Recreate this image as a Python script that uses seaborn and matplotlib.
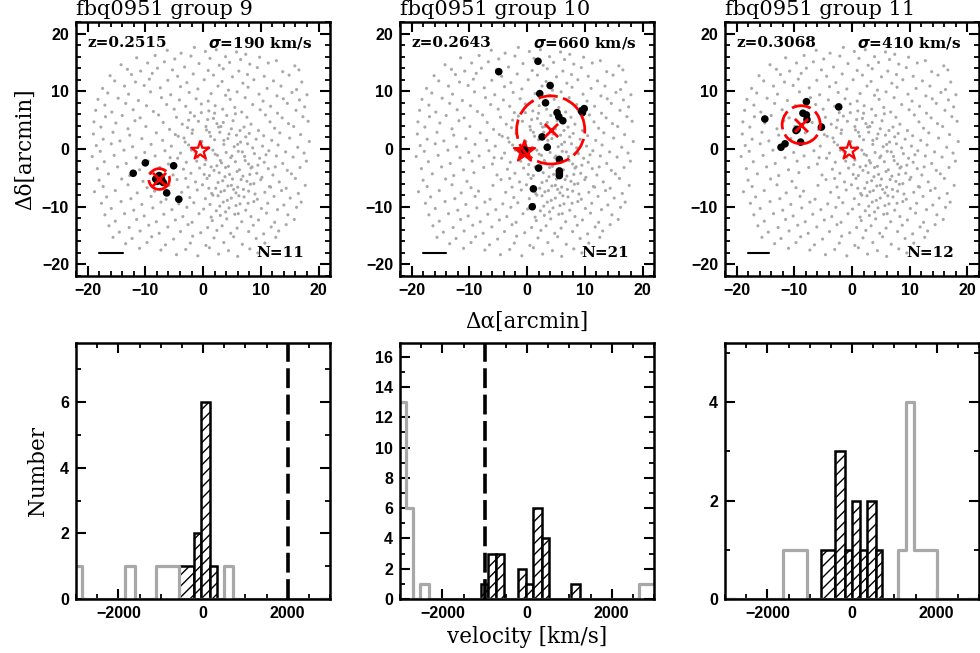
import numpy as np
import matplotlib
matplotlib.use('Agg')
import matplotlib.pyplot as plt
from matplotlib.patches import Circle
from matplotlib.ticker import MultipleLocator
import seaborn as sns

sns.set_style('ticks')
plt.rcParams['font.family'] = ['Liberation Sans', 'DejaVu Sans']
plt.rcParams['font.weight'] = 'bold'
plt.rcParams['hatch.linewidth'] = 1.0
plt.rcParams['text.color'] = 'black'
plt.rcParams['axes.labelcolor'] = 'black'

# ---------------- data ----------------
titles = ['fbq0951 group 9', 'fbq0951 group 10', 'fbq0951 group 11']
z_txt = ['z=0.2515', 'z=0.2643', 'z=0.3068']
sig_txt = [r'$\sigma$=190 km/s', r'$\sigma$=660 km/s', r'$\sigma$=410 km/s']
n_txt = ['N=11', 'N=21', 'N=12']

# field galaxies (same field in all three panels), arcmin
field_pts = [
    (-6.2,17.1),(-1.5,17.6),(2.3,17.2),(5.8,16.8),(-3.8,16.6),(0.4,16.9),(7.4,16.4),
    (-11.5,15.8),(-8.3,16.2),(-4.9,15.6),(-2.1,16.1),(1.2,15.7),(3.9,16.0),(6.5,15.5),(9.8,15.9),(12.7,15.3),
    (-14.2,14.6),(-9.6,14.9),(-6.7,15.1),(-0.7,14.8),(2.8,14.5),(4.6,15.0),(8.1,14.7),(11.3,14.9),(15.9,14.4),
    (-13.1,13.8),(-10.8,13.5),(-7.9,14.0),(-5.3,13.7),(-3.2,14.2),(0.9,13.6),(3.5,13.9),(6.2,13.5),(9.4,14.1),(13.8,13.4),(16.6,13.7),
    (-16.1,12.7),(-12.4,12.9),(-8.8,13.1),(-4.4,12.6),(-1.7,13.0),(1.8,12.8),(5.1,12.5),(7.7,12.9),(10.6,12.6),(14.9,12.8),
    (-15.3,11.8),(-11.7,11.6),(-9.3,12.1),(-6.1,11.9),(-2.8,11.5),(0.2,12.0),(3.3,11.7),(6.9,11.4),(8.8,12.0),(12.2,11.8),(17.1,11.6),
    (-17.4,10.5),(-13.6,10.9),(-10.2,11.0),(-7.4,10.6),(-3.9,10.8),(-0.9,10.4),(2.6,10.9),(4.4,10.2),(7.8,10.7),(11.1,10.5),(13.5,10.9),(16.2,10.3),
    (-16.5,9.7),(-12.9,9.5),(-9.1,9.9),(-5.6,9.4),(-2.4,9.8),(1.4,9.6),(3.9,9.3),(5.9,9.9),(9.7,9.5),(12.8,9.2),(15.4,9.8),(18.0,9.4),
    (-18.2,8.6),(-14.7,8.8),(-11.2,8.4),(-7.2,8.9),(-4.1,8.5),(-1.2,8.7),(0.9,8.3),(4.7,8.6),(7.3,8.9),(10.4,8.3),(13.9,8.7),(16.7,8.5),
    (-17.0,7.6),(-13.4,7.9),(-9.8,7.5),(-6.3,7.7),(-3.0,7.4),(-0.3,7.8),(2.1,7.5),(5.5,7.2),(8.6,7.7),(11.7,7.4),(14.6,7.9),(17.6,7.3),
    (-18.6,6.7),(-15.8,6.4),(-12.1,6.8),(-8.6,6.5),(-5.0,6.9),(-2.2,6.3),(1.0,6.6),(3.4,6.9),(6.7,6.4),(9.9,6.8),(12.9,6.2),(16.1,6.7),
    (-16.9,5.6),(-14.0,5.8),(-10.9,5.4),(-7.7,5.9),(-4.6,5.5),(-1.5,5.7),(1.8,5.3),(4.1,5.8),(7.6,5.5),(10.8,5.9),(13.7,5.4),(17.3,5.6),
    (-18.9,4.7),(-15.1,4.5),(-11.8,4.9),(-6.9,4.6),(-3.6,4.3),(-0.8,4.8),(2.4,4.4),(5.2,4.9),(8.3,4.3),(11.6,4.7),(14.8,4.4),(18.2,4.8),
    (-17.7,3.8),(-13.0,3.5),(-9.9,3.9),(-5.8,3.4),(-2.7,3.7),(0.6,3.3),(3.1,3.9),(4.9,3.5),(7.1,3.8),(9.6,3.2),(12.4,3.6),(15.7,3.9),
    (-19.0,2.6),(-15.6,2.9),(-12.7,2.4),(-8.1,2.8),(-4.8,2.5),(-1.9,2.7),(1.3,2.2),(2.9,2.9),(5.8,2.4),(8.0,2.7),(10.5,2.3),(13.3,2.8),(16.9,2.5),
    (-17.3,1.7),(-14.4,1.4),(-10.6,1.8),(-7.0,1.5),(-3.3,1.9),(-0.2,1.3),(2.0,1.6),(4.3,1.8),(6.5,1.2),(9.2,1.7),(11.9,1.5),(15.0,1.9),(18.4,1.3),
    (-18.5,0.6),(-15.9,0.9),(-12.2,0.4),(-9.0,0.8),(-5.5,0.5),(-2.5,0.7),(0.9,0.3),(3.6,0.8),(5.4,0.4),(7.7,0.9),(10.3,0.5),(13.0,0.7),(16.4,0.3),
    (-17.8,-0.4),(-13.7,-0.2),(-10.1,-0.6),(-6.6,-0.3),(-3.9,-0.7),(-1.4,-0.5),(1.7,-0.2),(4.0,-0.6),(6.1,-0.4),(8.9,-0.8),(11.4,-0.3),(14.3,-0.5),(17.5,-0.7),
    (-19.2,-1.3),(-15.4,-1.1),(-11.6,-1.5),(-8.3,-1.2),(-4.4,-1.6),(-0.9,-1.4),(2.5,-1.1),(4.8,-1.5),(7.2,-1.3),(9.8,-1.6),(12.7,-1.2),(15.6,-1.4),
    (-17.1,-2.2),(-13.3,-2.5),(-9.5,-2.1),(-6.0,-2.6),(-2.9,-2.3),(0.3,-2.7),(3.2,-2.4),(5.6,-2.2),(7.9,-2.6),(10.6,-2.3),(13.8,-2.5),(17.9,-2.1),
    (-18.3,-3.4),(-14.8,-3.1),(-11.0,-3.6),(-7.5,-3.2),(-3.4,-3.5),(-0.6,-3.3),(1.9,-3.7),(3.9,-3.2),(6.3,-3.6),(8.5,-3.1),(11.3,-3.4),(14.6,-3.7),(16.8,-3.2),
    (-16.4,-4.3),(-12.7,-4.6),(-9.2,-4.1),(-5.2,-4.5),(-2.1,-4.2),(1.1,-4.6),(2.8,-4.1),(4.6,-4.4),(6.9,-4.7),(9.3,-4.2),(12.1,-4.5),(15.3,-4.3),
    (-18.0,-5.4),(-14.1,-5.2),(-10.4,-5.6),(-4.5,-5.3),(-1.3,-5.7),(0.7,-5.1),(3.4,-5.5),(5.1,-5.2),(7.6,-5.6),(10.0,-5.3),(13.2,-5.7),(16.0,-5.1),
    (-17.3,-6.5),(-13.0,-6.2),(-9.7,-6.7),(-5.9,-6.3),(-2.6,-6.6),(-0.1,-6.2),(2.2,-6.8),(4.3,-6.4),(6.0,-6.6),(8.2,-6.1),(11.5,-6.5),(14.4,-6.8),(17.7,-6.3),
    (-18.8,-7.4),(-15.2,-7.2),(-11.4,-7.6),(-8.4,-7.3),(-3.7,-7.5),(-1.0,-7.1),(1.5,-7.7),(3.7,-7.2),(5.7,-7.6),(7.9,-7.3),(10.7,-7.5),(13.6,-7.2),(16.5,-7.7),
    (-16.7,-8.3),(-12.5,-8.6),(-9.0,-8.2),(-6.4,-8.7),(-2.3,-8.4),(0.4,-8.6),(2.6,-8.1),(4.9,-8.5),(7.1,-8.3),(9.4,-8.7),(12.3,-8.2),(15.1,-8.5),
    (-17.6,-9.4),(-14.2,-9.1),(-10.6,-9.6),(-7.3,-9.2),(-4.2,-9.5),(-1.6,-9.3),(1.2,-9.6),(3.5,-9.2),(6.4,-9.5),(8.8,-9.1),(11.2,-9.4),(14.0,-9.7),(17.0,-9.2),
    (-15.9,-10.3),(-12.0,-10.6),(-8.7,-10.2),(-5.4,-10.5),(-2.8,-10.1),(0.1,-10.4),(2.3,-10.7),(4.5,-10.2),(7.4,-10.6),(10.1,-10.3),(12.9,-10.5),(16.2,-10.1),
    (-17.0,-11.4),(-13.6,-11.2),(-10.2,-11.6),(-6.8,-11.3),(-3.5,-11.7),(-0.7,-11.2),(3.0,-11.5),(5.5,-11.3),(8.3,-11.7),(11.0,-11.1),(14.7,-11.4),
    (-15.2,-12.5),(-11.5,-12.2),(-8.1,-12.6),(-4.8,-12.3),(-1.9,-12.7),(1.6,-12.4),(4.1,-12.1),(6.7,-12.6),(9.6,-12.3),(12.4,-12.7),(15.8,-12.2),
    (-16.3,-13.3),(-12.8,-13.6),(-9.4,-13.2),(-6.1,-13.5),(-2.6,-13.1),(0.8,-13.6),(3.3,-13.3),(5.9,-13.7),(8.7,-13.2),(11.8,-13.5),(14.4,-13.1),
    (-14.5,-14.4),(-10.9,-14.2),(-7.6,-14.6),(-3.9,-14.3),(-0.4,-14.5),(2.4,-14.1),(4.8,-14.6),(7.9,-14.3),(10.5,-14.7),(13.1,-14.2),
    (-15.6,-15.3),(-12.3,-15.5),(-8.9,-15.2),(-5.1,-15.6),(-1.8,-15.1),(1.9,-15.4),(5.3,-15.2),(9.2,-15.5),(12.6,-15.3),
    (-13.4,-16.4),(-9.7,-16.2),(-6.5,-16.6),(-2.2,-16.3),(0.5,-16.7),(3.6,-16.2),(6.8,-16.5),(10.7,-16.3),
    (-11.0,-17.2),(-7.3,-17.5),(-3.0,-17.4),(1.1,-17.1),(4.4,-17.6),(8.1,-17.3),
    (-4.6,-18.3),(-0.9,-18.5),(2.7,-18.2),(6.0,-18.6),(9.5,-18.0),
    (0.5,-1.9),(1.4,-3.1),(2.1,-0.9),(3.0,-2.0),(3.8,-4.8),(4.4,-3.0),(5.0,-1.2),(5.9,-3.9),(6.6,-5.3),(7.3,-2.0),
    (8.1,-4.4),(8.8,-6.0),(9.5,-2.8),(2.6,-5.8),(1.0,-6.8),(3.1,-7.4),(4.2,-8.9),(5.3,-7.0),(6.2,-8.1),(7.8,-9.4),
    (9.0,-7.8),(0.2,-4.4),(1.7,-8.0),(2.9,-9.9),(5.7,-9.8),(3.6,1.5),(1.1,2.9),(2.7,3.8),(4.5,2.6),(6.0,0.8),
    (7.4,2.1),(8.6,0.2),(0.8,5.1),(2.0,6.2),(3.5,4.6),(5.6,6.1),(6.4,3.2),(-0.4,0.9),(-1.1,-2.1),(-2.0,-0.2),
    (-3.1,1.2),(-1.8,3.3),(-0.3,6.3),(4.9,-6.3),(7.0,-7.0),(8.3,-3.3),(10.2,-4.9),(10.9,-1.0),(11.7,-6.6),(12.5,-3.1),
    (6.8,-0.5),(2.4,-2.9),(3.9,-10.9),(1.4,-11.8),(6.1,-11.2),(0.5,3.9),(-2.5,5.0),(-4.3,2.2),(-5.7,-1.5),(-3.0,-5.1),
]

# group members (arcmin)
g9_dx = [-12.1, -10.0, -5.1, -6.3, -4.2, -8.2, -7.6, -7.2, -6.9, -7.9, -7.3]
g9_dy = [-4.2, -2.4, -2.9, -7.6, -8.7, -5.2, -4.6, -5.3, -5.8, -5.6, -4.9]
g10_dx = [-4.9, 1.9, 2.2, 4.0, 3.2, 5.2, 5.5, 6.2, 9.4, 9.9, 9.6, 2.6, 3.5, -0.4, 5.6, 2.0, 5.6, 5.6, 5.6, 1.1, 0.9]
g10_dy = [13.4, 15.2, 9.6, 11.0, 8.0, 6.3, 5.6, 4.9, 6.6, 7.0, 6.3, 2.1, 0.3, -0.2, -1.8, -3.3, -3.8, -4.2, -4.6, -6.9, -10.0]
g11_dx = [-15.1, -7.9, -8.5, -7.9, -7.8, -2.3, -5.3, -9.7, -8.9, -11.6, -12.3, -9.5]
g11_dy = [5.2, 8.2, 6.2, 5.9, 5.1, 7.3, 3.8, 3.2, 1.2, 0.9, 0.3, 3.4]
members_dx = [g9_dx, g10_dx, g11_dx]
members_dy = [g9_dy, g10_dy, g11_dy]

center_x = [-7.6, 4.1, -8.8]
center_y = [-5.2, 3.3, 4.2]
radius = [1.8, 5.9, 3.3]
bar_len = [4.2, 4.0, 3.6]
target_x, target_y = -0.5, -0.3

# velocity histograms (km/s)
all_edges = [
    [-3000, -2860, -1840, -1610, -1100, -565, 340, 490, 705, 3000],
    [-3000, -2860, -2686, -2529, -2310, 2647, 3000],
    [-3000, -1632, -1063, 1087, 1269, 1466, 1996, 3000],
]
all_counts = [
    [1, 0, 1, 0, 1, 0, 0, 1, 0],
    [13, 6, 0, 1, 0, 1],
    [0, 1, 0, 1, 4, 1, 0],
]
mem_edges = [
    [-565, -212, -38, 174, 340],
    [-1094, -922, -725, -545, -216, -20, 137, 357, 514, 1039, 1251],
    [-723, -391, -170, -12, 186, 360, 557, 715],
]
mem_counts = [
    [1, 2, 6, 1],
    [1, 3, 3, 0, 2, 1, 6, 4, 0, 1],
    [1, 3, 1, 2, 1, 2, 1],
]
vline_pos = [2000, -1000, None]
hist_ymax = [7.8, 16.9, 5.2]

# ---------------- figure ----------------
serif = dict(family='DejaVu Serif', weight='normal', color='black')
lefts = [0.0776, 0.4082, 0.7398]
width = 0.2592
field = np.array(field_pts)

fig = plt.figure(figsize=(9.8, 6.53), dpi=100)


def style_axes(ax):
    for sp in ax.spines.values():
        sp.set_linewidth(1.8)
        sp.set_color('black')
    ax.tick_params(which='both', direction='in', top=True, right=True,
                   labelsize=11.5, colors='black', pad=5)
    ax.tick_params(which='major', length=7, width=1.5)
    ax.tick_params(which='minor', length=3.5, width=1.3)


for i in range(3):
    # ---- sky map ----
    ax = fig.add_axes([lefts[i], 0.5773, width, 0.389])
    sns.scatterplot(x=field[:, 0], y=field[:, 1], s=5, marker='o',
                    color='#a8a8a8', edgecolor='none', ax=ax, zorder=1)
    if i == 1:
        sns.scatterplot(x=[target_x], y=[target_y], marker='*', s=260,
                        color='red', edgecolor='red', linewidth=1.5, ax=ax, zorder=2)
    else:
        sns.scatterplot(x=[target_x], y=[target_y], marker='*', s=190,
                        facecolor='none', edgecolor='red', linewidth=1.6, ax=ax, zorder=4)
    sns.scatterplot(x=members_dx[i], y=members_dy[i], s=30, color='black',
                    edgecolor='none', ax=ax, zorder=3)
    ax.add_patch(Circle((center_x[i], center_y[i]), radius[i], fill=False,
                        edgecolor='red', linewidth=2, linestyle=(0, (7, 2)), zorder=5))
    sns.scatterplot(x=[center_x[i]], y=[center_y[i]], marker='x', s=90,
                    color='red', linewidth=2, ax=ax, zorder=6)
    ax.plot([-18, -18 + bar_len[i]], [-18, -18], color='black', lw=1.5)

    ax.set_xlim(-22, 22)
    ax.set_ylim(-22, 22)
    ax.xaxis.set_major_locator(MultipleLocator(10))
    ax.xaxis.set_minor_locator(MultipleLocator(2))
    ax.yaxis.set_major_locator(MultipleLocator(10))
    ax.yaxis.set_minor_locator(MultipleLocator(2))
    style_axes(ax)
    ax.set_xlabel('')
    ax.set_ylabel('')
    ax.set_title(titles[i], loc='left', pad=5, fontsize=15, **serif)
    ax.text(0.047, 0.917, z_txt[i], transform=ax.transAxes, va='center',
            ha='left', fontsize=11, family='DejaVu Serif', weight='bold', color='black')
    ax.text(0.93, 0.917, sig_txt[i], transform=ax.transAxes, va='center',
            ha='right', fontsize=11, family='DejaVu Serif', weight='bold', color='black')
    ax.text(0.9, 0.09, n_txt[i], transform=ax.transAxes, va='center',
            ha='right', fontsize=11, family='DejaVu Serif', weight='bold', color='black')
    if i == 0:
        ax.set_ylabel('Δδ[arcmin]', fontsize=15.5, labelpad=4, **serif)
    if i == 1:
        ax.set_xlabel('Δα[arcmin]', fontsize=15.5, labelpad=9, **serif)

    # ---- velocity histogram ----
    hx = fig.add_axes([lefts[i], 0.0827, width, 0.392])
    e = list(all_edges[i])
    ec = [(a + b) / 2 for a, b in zip(e[:-1], e[1:])]
    sns.histplot(x=ec, weights=all_counts[i], bins=e,
                 element='step', fill=False, color='#a8a8a8', linewidth=2.3, ax=hx)
    m = list(mem_edges[i])
    mc = [(a + b) / 2 for a, b in zip(m[:-1], m[1:])]
    sns.histplot(x=mc, weights=mem_counts[i], bins=m,
                 element='bars', fill=True, facecolor='white', edgecolor='black',
                 linewidth=1.8, hatch='///', alpha=1, ax=hx)
    if vline_pos[i] is not None:
        hx.axvline(vline_pos[i], color='black', lw=2.6, linestyle=(0, (5.5, 1.8)))
    hx.set_xlim(-3000, 3000)
    hx.set_ylim(0, hist_ymax[i])
    hx.xaxis.set_major_locator(MultipleLocator(2000))
    hx.xaxis.set_minor_locator(MultipleLocator(500))
    hx.yaxis.set_major_locator(MultipleLocator(2))
    hx.yaxis.set_minor_locator(MultipleLocator(1))
    style_axes(hx)
    hx.set_xlabel('')
    hx.set_ylabel('')
    if i == 0:
        hx.set_ylabel('Number', fontsize=15.5, labelpad=8, **serif)
    if i == 1:
        hx.set_xlabel('velocity [km/s]', fontsize=15.5, labelpad=4, **serif)

fig.savefig('out.png', dpi=100)
